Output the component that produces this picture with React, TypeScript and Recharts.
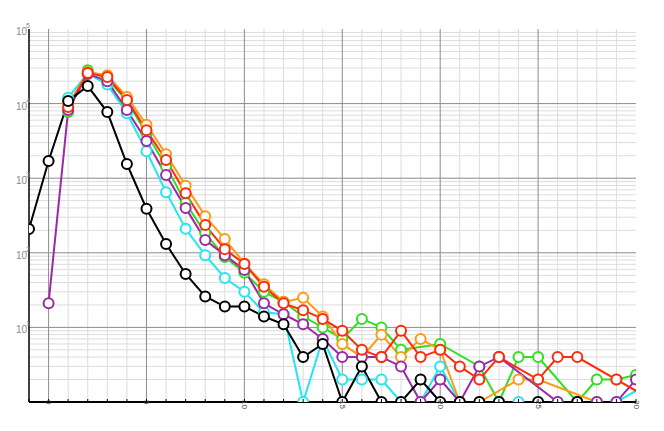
import React from "react"
import { LineChart, Line, XAxis, YAxis, CartesianGrid, ReferenceLine } from "recharts"

// x positions, -1 .. 31 (31 only feeds the clipped segment past the right edge)
const xValues = [-1, 0, 1, 2, 3, 4, 5, 6, 7, 8, 9, 10, 11, 12, 13, 14, 15, 16, 17, 18, 19, 20, 21, 22, 23, 24, 25, 26, 27, 28, 29, 30, 31]

const blackSeries = [208, 1700, 10800, 17200, 7700, 1550, 390, 131, 52, 26, 19, 19, 14, 11, 4, 6, 1, 3, 1, 1, 2, 1, 1, 1, 1, null, 1, null, 1, null, null, null, null]
const cyanSeries = [null, null, 12000, 25500, 18000, 7400, 2300, 650, 210, 93, 46, 30, 16, 15, 1, 7, 2, 2, 2, 1, 1, 3, 1, 1, 1, 1, 1, 1, 1, 1, 1, null, 2]
const purpleSeries = [null, 21, 8200, 25000, 20000, 8200, 3150, 1100, 400, 148, 93, 59, 21, 15, 11, 7, 4, 4, 4, 3, 1, 2, 1, 3, 4, null, null, 1, 1, 1, 1, 2, null]
const greenSeries = [null, null, 7700, 28000, 21500, 10800, 4000, 1450, 465, 184, 88, 54, 30, 22, 14, 10, 7, 13, 10, 5, null, 6, null, 3, 1, 4, 4, null, 1, 2, 2, 2.3, null]
const orangeSeries = [null, null, 9600, 26500, 24000, 12300, 5200, 2100, 790, 310, 153, 72, 38, 22, 25, 14, 6, 4, 8, 4, 7, 5, 1, 1, null, 2, 2, null, null, 1, null, null, null]
const redSeries = [null, null, 9000, 25700, 22700, 11200, 4400, 1750, 630, 235, 112, 71, 35, 21, 17, 13, 9, 5, 4, 9, 4, 5, 3, 2, 4, null, 2, 4, 4, null, 2, null, 1]

const xTicks = xValues.filter((v) => v <= 30)
const yMajor = [10, 100, 1000, 10000]
const yMinor = [1, 10, 100, 1000, 10000].flatMap((d) => [2, 3, 4, 5, 6, 7, 8, 9].map((m) => m * d))
const xMajor = [0, 5, 10, 15, 20, 25]
const xMinor = xTicks.filter((v) => v > -1 && v < 30 && v % 5 !== 0)

const data = xValues.map((x, i) => ({
  x,
  black: blackSeries[i],
  cyan: cyanSeries[i],
  purple: purpleSeries[i],
  green: greenSeries[i],
  orange: orangeSeries[i],
  red: redSeries[i],
}))

const series = [
  { key: "cyan", color: "#22e6f0" },
  { key: "green", color: "#2ee01e" },
  { key: "orange", color: "#ff9a12" },
  { key: "purple", color: "#9a2aa6" },
  { key: "red", color: "#ff2a0a" },
  { key: "black", color: "#000000" },
]

function BottomTick(props: any) {
  const { x, y, payload } = props
  const v = payload.value
  return (
    <g>
      <line x1={x} x2={x} y1={y} y2={y - 3} stroke="#000" strokeWidth={1} />
      {v % 5 === 0 && (
        <text
          transform={`translate(${x},${y - 2}) rotate(90)`}
          fontSize={8}
          fill="#444"
          fontFamily="Liberation Sans, Arial, sans-serif"
          dominantBaseline="central"
          textAnchor="start"
        >
          {v}
        </text>
      )}
    </g>
  )
}

function TopTick(props: any) {
  const { x, y } = props
  return <line x1={x} x2={x} y1={y} y2={y + 3} stroke="#000" strokeWidth={1} />
}

function LogTick(props: any) {
  const { x, y, payload } = props
  const exp = Math.round(Math.log10(payload.value))
  return (
    <g fontFamily="Liberation Sans, Arial, sans-serif" fill="#8a8a8a">
      <text x={x - 2} y={y + 6} fontSize={10} textAnchor="end">
        10
      </text>
      <text x={x - 3} y={y - 1} fontSize={7} textAnchor="start">
        {exp}
      </text>
    </g>
  )
}

export default function App() {
  return (
    <div style={{ position: "absolute", left: 0, top: 0, width: 664, height: 431, background: "#fff" }}>
      <LineChart width={664} height={431} data={data} margin={{ top: 29, right: 28, bottom: 9, left: 0 }}>
        <CartesianGrid stroke="#dcdcdc" horizontalValues={yMinor} verticalValues={xMinor} />
        <CartesianGrid stroke="#8c8c8c" horizontalValues={yMajor} verticalValues={xMajor} />
        <XAxis
          dataKey="x"
          type="number"
          domain={[-1, 30]}
          allowDataOverflow
          ticks={xTicks}
          interval={0}
          height={20}
          tickSize={0}
          tickMargin={0}
          tick={<BottomTick />}
          axisLine={{ stroke: "#000", strokeWidth: 2 }}
        />
        <XAxis
          xAxisId="top"
          orientation="top"
          dataKey="x"
          type="number"
          domain={[-1, 30]}
          allowDataOverflow
          ticks={xTicks}
          interval={0}
          height={0}
          tickSize={0}
          tickMargin={0}
          tick={<TopTick />}
          axisLine={{ stroke: "#000", strokeWidth: 1 }}
        />
        <YAxis
          scale="log"
          type="number"
          domain={[1, 100000]}
          allowDataOverflow
          ticks={[10, 100, 1000, 10000, 100000]}
          interval={0}
          width={29}
          tickSize={0}
          tickMargin={0}
          tick={<LogTick />}
          axisLine={{ stroke: "#000", strokeWidth: 1.5 }}
        />
        <YAxis
          yAxisId="right"
          orientation="right"
          scale="log"
          type="number"
          domain={[1, 100000]}
          allowDataOverflow
          width={0}
          tick={false}
          tickLine={false}
          axisLine={{ stroke: "#000", strokeWidth: 1.5 }}
        />
        {series.map((s) => (
          <Line
            key={s.key}
            dataKey={s.key}
            type="linear"
            stroke={s.color}
            strokeWidth={2}
            connectNulls
            dot={{ r: 5, fill: "#fff", stroke: s.color, strokeWidth: 2 }}
            isAnimationActive={false}
          />
        ))}
      </LineChart>
    </div>
  )
}
